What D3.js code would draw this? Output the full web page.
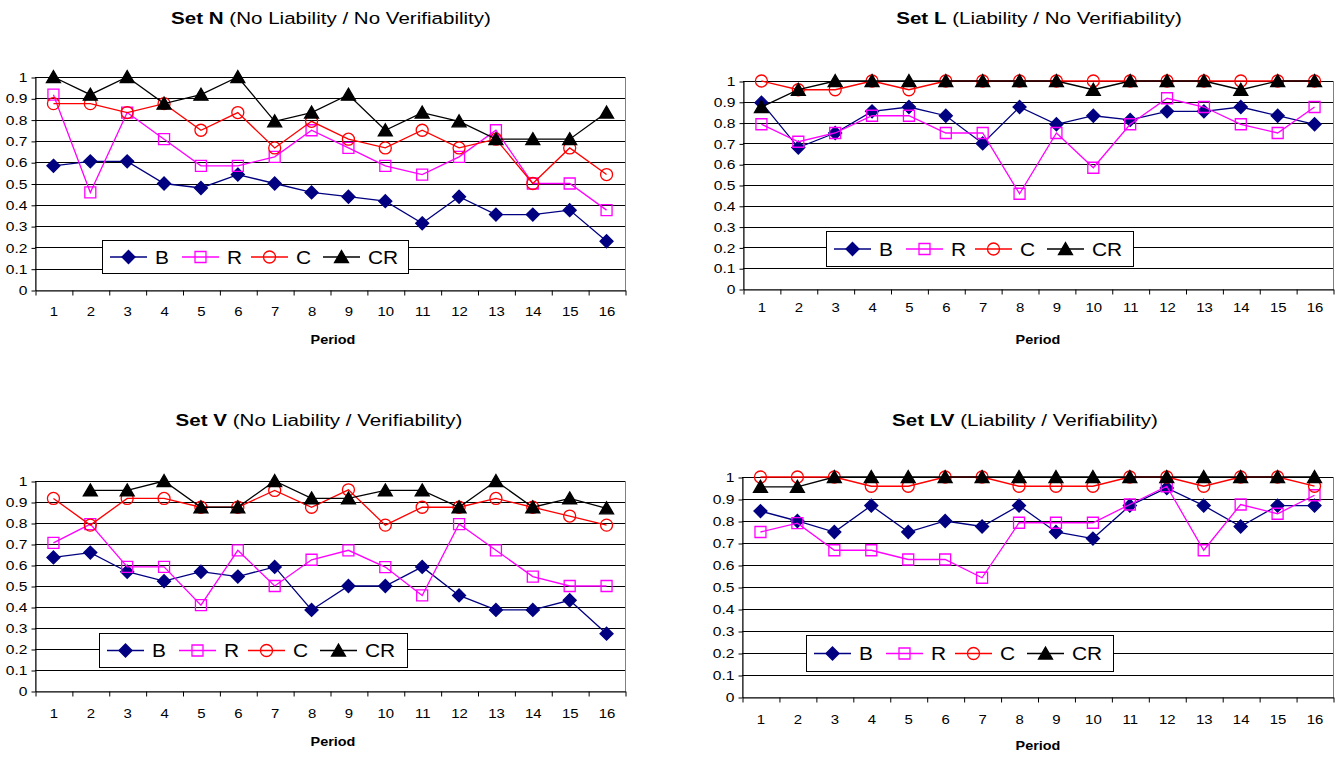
<!DOCTYPE html>
<html><head><meta charset="utf-8">
<script src="https://cdn.jsdelivr.net/npm/d3@7"></script>
<style>body{margin:0;background:#fff} svg{display:block}</style>
</head><body><svg id="c" width="1343" height="758"></svg>
<script>
// ---------- DATA ----------
const periods = [1,2,3,4,5,6,7,8,9,10,11,12,13,14,15,16];
const seriesNames = ["B","R","C","CR"];
const yTicks = [0,0.1,0.2,0.3,0.4,0.5,0.6,0.7,0.8,0.9,1];
const yTickLabels = ["0","0.1","0.2","0.3","0.4","0.5","0.6","0.7","0.8","0.9","1"];

const N_B  = [0.583,0.604,0.604,0.5,0.479,0.542,0.5,0.458,0.438,0.417,0.313,0.438,0.354,0.354,0.375,0.229];
const N_R  = [0.917,0.458,0.833,0.708,0.583,0.583,0.625,0.75,0.667,0.583,0.542,0.625,0.75,0.5,0.5,0.375];
const N_C  = [0.875,0.875,0.833,0.875,0.75,0.833,0.667,0.792,0.708,0.667,0.75,0.667,0.708,0.5,0.667,0.542];
const N_CR = [1,0.917,1,0.875,0.917,1,0.792,0.833,0.917,0.75,0.833,0.792,0.708,0.708,0.708,0.833];

const L_B  = [0.896,0.68,0.75,0.854,0.875,0.833,0.7,0.875,0.792,0.833,0.813,0.854,0.854,0.875,0.833,0.792];
const L_R  = [0.792,0.708,0.75,0.833,0.833,0.75,0.75,0.458,0.75,0.583,0.792,0.917,0.875,0.792,0.75,0.875];
const L_C  = [1,0.958,0.958,1,0.958,1,1,1,1,1,1,1,1,1,1,1];
const L_CR = [0.875,0.958,1,1,1,1,1,1,1,0.958,1,1,1,0.958,1,1];

const V_B  = [0.636,0.659,0.568,0.523,0.568,0.545,0.591,0.386,0.5,0.5,0.591,0.455,0.386,0.386,0.432,0.273];
const V_R  = [0.705,0.795,0.591,0.591,0.409,0.67,0.5,0.625,0.67,0.59,0.455,0.795,0.67,0.545,0.5,0.5];
const V_C  = [0.917,0.79,0.917,0.917,0.875,0.875,0.955,0.875,0.958,0.79,0.875,0.875,0.917,0.875,0.833,0.79];
const V_CR = [null,0.955,0.955,1,0.875,0.875,1,0.917,0.917,0.955,0.955,0.875,1,0.875,0.917,0.87];

const LV_B  = [0.845,0.8,0.75,0.87,0.75,0.8,0.775,0.87,0.75,0.72,0.87,0.95,0.87,0.775,0.87,0.87];
const LV_R  = [0.75,0.79,0.667,0.667,0.625,0.625,0.542,0.792,0.792,0.792,0.875,0.958,0.667,0.875,0.833,0.917];
const LV_C  = [1,1,1,0.958,0.958,1,1,0.958,0.958,0.958,1,1,0.958,1,1,0.958];
const LV_CR = [0.955,0.955,1,1,1,1,1,1,1,1,1,1,1,1,1,1];

// ---------- LAYOUT / STYLE ----------
const charts = [
  {bold:"Set N", rest:" (No Liability / No Verifiability)", series:[N_B,N_R,N_C,N_CR],
   left:35, right:625, top:77, bottom:290, titleX:331, titleY:24, xPad:17, periodX:333, periodY:344,
   legend:{x:102, y:240, w:306, h:33}},
  {bold:"Set L", rest:" (Liability / No Verifiability)", series:[L_B,L_R,L_C,L_CR],
   left:743, right:1333, top:81, bottom:289, titleX:1039, titleY:24, xPad:14, periodX:1038, periodY:344,
   legend:{x:826, y:231, w:307, h:35}},
  {bold:"Set V", rest:" (No Liability / Verifiability)", series:[V_B,V_R,V_C,V_CR],
   left:35, right:625, top:481, bottom:691, titleX:319, titleY:426, xPad:18, periodX:333, periodY:746,
   legend:{x:99, y:633, w:308, h:34}},
  {bold:"Set LV", rest:" (Liability / Verifiability)", series:[LV_B,LV_R,LV_C,LV_CR],
   left:742, right:1333, top:477, bottom:697, titleX:1025, titleY:426, xPad:18, periodX:1038, periodY:750,
   legend:{x:806, y:635, w:307, h:36}}
];
const colors = {B:"#000080", R:"#FF00FF", C:"#FF0000", CR:"#000000"};
const shapes = {
  B:  {d:"M0,-6.5L6.5,0L0,6.5L-6.5,0Z", fill:"#000080", stroke:"#000080"},
  R:  {d:"M-5.5,-5.5H5.5V5.5H-5.5Z", fill:"none", stroke:"#FF00FF"},
  C:  {d:"M6,0A6,6 0 1,1 -6,0A6,6 0 1,1 6,0Z", fill:"none", stroke:"#FF0000"},
  CR: {d:"M0,-6.5L7,5.5L-7,5.5Z", fill:"#000000", stroke:"#000000"}
};
const FONT = "'Liberation Sans', Arial, Helvetica, sans-serif";

function stretch(sel, sx){
  sel.each(function(){
    const t = d3.select(this);
    const x = +t.attr("x") || 0;
    t.attr("x", x/sx).attr("transform", `scale(${sx},1)`);
  });
}

const svg = d3.select("#c");
svg.append("rect").attr("width",1343).attr("height",758).attr("fill","#fff");

charts.forEach(ch => {
  const g = svg.append("g");
  const x = d3.scaleLinear().domain([0.5, 16.5]).range([ch.left, ch.right]);
  const y = d3.scaleLinear().domain([0, 1]).range([ch.bottom, ch.top]);

  // plot area border
  g.append("rect").attr("x", ch.left+0.5).attr("y", ch.top+0.5)
    .attr("width", ch.right-ch.left).attr("height", ch.bottom-ch.top)
    .attr("fill","#fff").attr("stroke","#808080").attr("stroke-width",1);

  // gridlines
  g.append("g").selectAll("line").data(yTicks.filter(v => v>0)).join("line")
    .attr("x1", ch.left).attr("x2", ch.right)
    .attr("y1", d => Math.round(y(d))+0.5).attr("y2", d => Math.round(y(d))+0.5)
    .attr("stroke","#000").attr("stroke-width",1);

  // y axis
  const ya = g.append("g").attr("transform",`translate(${ch.left+0.5},0.5)`)
    .call(d3.axisLeft(y).tickValues(yTicks).tickFormat((d,i)=>yTickLabels[i]).tickSize(4).tickPadding(4).tickSizeOuter(0));
  ya.select(".domain").attr("stroke","#000");
  ya.selectAll("line").attr("stroke","#000");
  ya.selectAll("text").attr("font-family",FONT).attr("font-size",13).attr("fill","#000");
  stretch(ya.selectAll("text"), 1.2);

  // x axis: boundary tick marks
  const xb = g.append("g").attr("transform",`translate(0.5,${ch.bottom+0.5})`)
    .call(d3.axisBottom(x).tickValues(periods.map(p=>p-0.5).concat([periods[periods.length-1]+0.5])).tickFormat("").tickSize(5).tickSizeOuter(0));
  xb.select(".domain").attr("stroke","#000");
  xb.selectAll("line").attr("stroke","#000");
  // x axis: category labels
  const xl = g.append("g").attr("transform",`translate(0,${ch.bottom})`)
    .call(d3.axisBottom(x).tickValues(periods).tickFormat(d=>String(d)).tickSize(0).tickPadding(ch.xPad));
  xl.select(".domain").remove();
  xl.selectAll("text").attr("font-family",FONT).attr("font-size",13).attr("fill","#000");
  stretch(xl.selectAll("text"), 1.15);

  // series
  ch.series.forEach((vals, si) => {
    const name = seriesNames[si];
    const pts = periods.map((p,i)=>({p, v: vals[i]}));
    const line = d3.line().defined(d => d.v != null).x(d => x(d.p)).y(d => y(d.v));
    g.append("path").attr("d", line(pts)).attr("fill","none")
      .attr("stroke", colors[name]).attr("stroke-width",1.3);
    const sh = shapes[name];
    g.append("g").selectAll("path").data(pts.filter(d=>d.v!=null)).join("path")
      .attr("transform", d => `translate(${x(d.p)},${y(d.v)})`)
      .attr("d", sh.d).attr("fill", sh.fill).attr("stroke", sh.stroke).attr("stroke-width",1.3);
  });

  // legend
  const L = ch.legend;
  const lg = g.append("g").attr("transform",`translate(${L.x},${L.y})`);
  lg.append("rect").attr("x",0.5).attr("y",0.5).attr("width",L.w).attr("height",L.h)
    .attr("fill","#fff").attr("stroke","#000").attr("stroke-width",1);
  const starts = [8, 80, 149, 221];
  seriesNames.forEach((name, i) => {
    const cy = L.h/2 + 0.5;
    const s = starts[i];
    lg.append("line").attr("x1", s).attr("x2", s+37).attr("y1", cy).attr("y2", cy)
      .attr("stroke", colors[name]).attr("stroke-width",1.3);
    const sh = shapes[name];
    lg.append("path").attr("transform",`translate(${s+18.5},${cy})`)
      .attr("d", sh.d).attr("fill", sh.fill).attr("stroke", sh.stroke).attr("stroke-width",1.3);
    const t = lg.append("text").attr("x", s+45).attr("y", cy+7)
      .attr("font-family",FONT).attr("font-size",19).attr("fill","#000").text(name);
    stretch(t, 1.1);
  });

  // title
  const tt = svg.append("text").attr("x", ch.titleX).attr("y", ch.titleY)
    .attr("text-anchor","middle").attr("font-family",FONT).attr("font-size",17).attr("fill","#000");
  tt.append("tspan").attr("font-weight","bold").text(ch.bold);
  tt.append("tspan").text(ch.rest);
  stretch(tt, 1.21);

  // axis title
  const pt = svg.append("text").attr("x", ch.periodX).attr("y", ch.periodY)
    .attr("text-anchor","middle").attr("font-family",FONT).attr("font-size",12)
    .attr("font-weight","bold").attr("fill","#000").text("Period");
  stretch(pt, 1.2);
});
</script>
</body></html>
